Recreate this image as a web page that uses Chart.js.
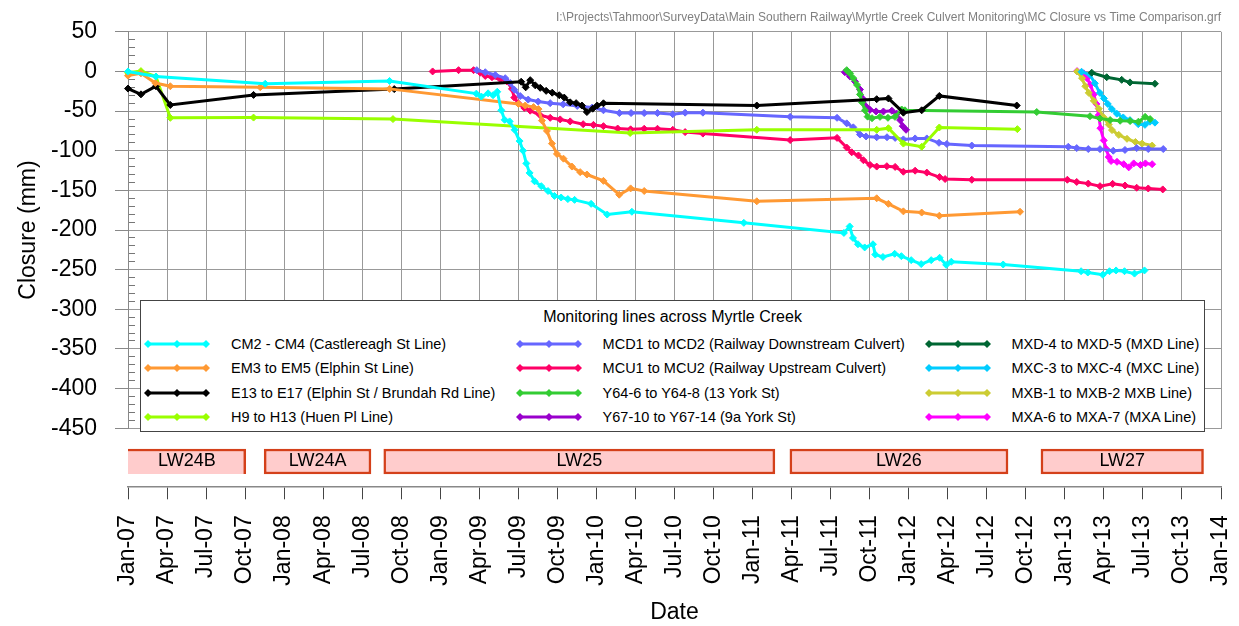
<!DOCTYPE html>
<html>
<head>
<meta charset="utf-8">
<title>MC Closure vs Time Comparison</title>
<script src="https://cdn.jsdelivr.net/npm/chart.js"></script>
<style>
  html, body { margin: 0; padding: 0; background: #fff; }
  body { font-family: 'Liberation Sans', Arial, sans-serif; }
  #wrap { position: relative; width: 1239px; height: 626px; overflow: hidden; }
  #mainBox { position: absolute; left: 0; top: 0; width: 1239px; height: 460px; }
  /* wider than the page so the rotated end label does not squeeze the axis */
  #panelBox { position: absolute; left: 0; top: 430px; width: 1267px; height: 196px; }
  #legend {
    position: absolute; left: 140px; top: 300px; width: 1063px; height: 130px;
    background: #fff; border: 1px solid #444; z-index: 5;
  }
  #legend .title {
    position: absolute; left: 0; right: 0; top: 6px; text-align: center;
    font-size: 16px; line-height: 20px; color: #000;
  }
  #legend .item { position: absolute; height: 24px; display: flex; align-items: center; white-space: nowrap; }
  #legend .item svg { width: 66px; height: 12px; margin-right: 21px; flex: none; }
  #legend .item span { font-size: 14.5px; color: #000; }
</style>
</head>
<body>
<div id="wrap">
  <div id="mainBox"><canvas id="main"></canvas></div>
  <div id="panelBox"><canvas id="panels"></canvas></div>
  <div id="legend"></div>
</div>
<script>
// closure readings, [decimal year, mm]
const cm2Cm4 = [[2007.000, 0], [2007.179, -6.5], [2007.879, -15.5], [2008.675, -12], [2009.231, -28], [2009.263, -31.7], [2009.306, -27.6], [2009.338, -30], [2009.365, -25.6], [2009.391, -49], [2009.412, -61], [2009.444, -63], [2009.476, -73.6], [2009.508, -87.8], [2009.530, -100], [2009.551, -116], [2009.572, -128], [2009.604, -138.6], [2009.647, -144.7], [2009.690, -150.8], [2009.731, -157], [2009.774, -159], [2009.817, -161], [2009.860, -162], [2009.966, -167], [2010.069, -180.5], [2010.227, -177], [2010.944, -191], [2011.585, -203.7], [2011.622, -195.5], [2011.643, -210], [2011.675, -218], [2011.718, -222], [2011.771, -218], [2011.786, -231], [2011.835, -234], [2011.910, -230], [2011.953, -233], [2012.016, -238], [2012.080, -243], [2012.144, -238], [2012.198, -235], [2012.240, -244], [2012.273, -240], [2012.605, -243.5], [2013.104, -252], [2013.147, -253.6], [2013.243, -256.5], [2013.286, -252], [2013.328, -251], [2013.382, -252], [2013.446, -255], [2013.510, -251]];
const em3Em5 = [[2007.000, -5.3], [2007.083, -2.4], [2007.175, -14.6], [2007.271, -18.7], [2007.847, -19.9], [2008.675, -22], [2009.501, -41], [2009.544, -43], [2009.597, -45], [2009.629, -47.5], [2009.651, -62], [2009.683, -75], [2009.715, -91], [2009.747, -104], [2009.789, -110], [2009.843, -120], [2009.896, -127], [2009.939, -130], [2010.045, -138], [2010.146, -155.5], [2010.219, -147.5], [2010.306, -150.8], [2011.027, -163.8], [2011.795, -160], [2011.870, -167], [2011.966, -176.5], [2012.083, -178], [2012.196, -182], [2012.713, -177]];
const e13E17 = [[2007.000, -21.6], [2007.083, -28.9], [2007.179, -18.7], [2007.271, -42.3], [2007.804, -29.6], [2008.705, -22.3], [2009.518, -13], [2009.547, -20], [2009.576, -11], [2009.608, -17.5], [2009.640, -20.7], [2009.678, -24.5], [2009.717, -26.8], [2009.762, -30], [2009.794, -33], [2009.832, -39], [2009.870, -40], [2009.907, -43], [2009.939, -51.2], [2009.976, -47], [2010.005, -43], [2010.045, -40.2], [2011.027, -43], [2011.795, -35], [2011.870, -34], [2011.966, -52], [2012.083, -49], [2012.196, -30.9], [2012.692, -43]];
const h9H13 = [[2007.000, -1.6], [2007.083, 0.4], [2007.179, -6.5], [2007.271, -58.5], [2007.804, -58.2], [2008.697, -60.1], [2010.216, -77.7], [2011.027, -73.6], [2011.795, -73.6], [2011.870, -71.6], [2011.966, -91], [2012.083, -95], [2012.196, -70.7], [2012.696, -72.8]];
const mcd1Mcd2 = [[2009.234, 1.6], [2009.288, -1], [2009.352, -4.5], [2009.416, -8.5], [2009.448, -14.6], [2009.474, -23], [2009.512, -31], [2009.563, -35.5], [2009.627, -38], [2009.704, -40], [2009.787, -41.5], [2009.877, -43.5], [2009.973, -45.5], [2010.045, -49], [2010.147, -52.5], [2010.222, -52.5], [2010.306, -52.5], [2010.391, -52.5], [2010.489, -54], [2010.568, -52], [2010.682, -52], [2011.241, -57.3], [2011.541, -58.5], [2011.603, -65.5], [2011.645, -70.5], [2011.688, -79.6], [2011.727, -82], [2011.795, -83], [2011.861, -83], [2011.913, -83.8], [2011.966, -85.7], [2012.041, -84.5], [2012.116, -84.5], [2012.194, -90], [2012.244, -91.5], [2012.404, -93.5], [2013.022, -95], [2013.076, -96.7], [2013.150, -97.9], [2013.225, -98], [2013.310, -100], [2013.385, -99], [2013.460, -96.7], [2013.534, -97.9], [2013.630, -97.9]];
const mcu1Mcu2 = [[2008.951, 0], [2009.117, 1.6], [2009.213, 1.6], [2009.256, -1.6], [2009.288, -5.7], [2009.331, -7.3], [2009.384, -9.8], [2009.427, -12.6], [2009.459, -22], [2009.474, -33], [2009.499, -40], [2009.538, -46], [2009.576, -49.5], [2009.640, -55.3], [2009.704, -58.5], [2009.768, -60.5], [2009.832, -63], [2009.915, -66.5], [2009.981, -67.4], [2010.045, -69], [2010.136, -72], [2010.219, -73], [2010.306, -72.3], [2010.391, -72.3], [2010.489, -73.6], [2010.568, -76.5], [2010.682, -78.4], [2011.241, -86.6], [2011.541, -83.8], [2011.603, -96], [2011.635, -102], [2011.678, -106], [2011.710, -112], [2011.753, -118], [2011.795, -120], [2011.860, -119.5], [2011.913, -120.4], [2011.966, -126.5], [2012.041, -125.2], [2012.116, -127.6], [2012.197, -133.3], [2012.233, -135.7], [2012.404, -136.6], [2013.016, -136.6], [2013.076, -139.4], [2013.150, -141.5], [2013.225, -144.7], [2013.306, -141.8], [2013.385, -143.9], [2013.460, -146.7], [2013.534, -147.6], [2013.627, -148.8]];
const y64York13 = [[2011.603, 1.6], [2011.624, -2.4], [2011.645, -8.5], [2011.669, -17], [2011.688, -29], [2011.701, -39], [2011.720, -49], [2011.737, -57], [2011.765, -59], [2011.816, -57.3], [2011.867, -58.5], [2011.912, -57.3], [2011.955, -48], [2011.976, -49], [2012.820, -51.2], [2013.161, -56.5], [2013.225, -59.4], [2013.290, -61.3], [2013.354, -62.2], [2013.418, -62.6], [2013.471, -63.4], [2013.514, -57.3], [2013.546, -60.1]];
const y67York9a = [[2011.591, -1], [2011.624, -6.5], [2011.656, -12.6], [2011.688, -22.8], [2011.709, -35], [2011.731, -45], [2011.752, -48.4], [2011.791, -50.4], [2011.838, -50.5], [2011.892, -49.5], [2011.924, -53.3], [2011.945, -61.4], [2011.962, -69], [2011.983, -73.6]];
const mxdLine = [[2013.172, -1.6], [2013.268, -7.3], [2013.364, -10.6], [2013.417, -13.8], [2013.577, -15.5]];
const mxcLine = [[2013.107, -0.4], [2013.160, -4], [2013.192, -15], [2013.224, -27], [2013.250, -34], [2013.275, -41], [2013.301, -47.5], [2013.333, -53.3], [2013.374, -58], [2013.417, -61.4], [2013.470, -66.5], [2013.513, -67.4], [2013.545, -63.4], [2013.577, -64.6]];
const mxbLine = [[2013.078, 0], [2013.110, -8.5], [2013.131, -18.7], [2013.153, -27], [2013.185, -37], [2013.217, -47], [2013.249, -58], [2013.281, -67], [2013.302, -74], [2013.345, -80], [2013.398, -85], [2013.452, -89], [2013.495, -91], [2013.559, -93.5]];
const mxaLine = [[2013.078, 0.4], [2013.121, -2.4], [2013.142, -8.5], [2013.164, -16.7], [2013.185, -29], [2013.202, -41], [2013.217, -55], [2013.228, -71.6], [2013.249, -87], [2013.266, -98], [2013.281, -108], [2013.296, -113], [2013.334, -114], [2013.377, -117], [2013.409, -121], [2013.441, -116], [2013.484, -118], [2013.516, -116], [2013.559, -117]];

const seriesNames = [
  'CM2 - CM4 (Castlereagh St Line)', 'EM3 to EM5 (Elphin St Line)', 'E13 to E17 (Elphin St / Brundah Rd Line)', 'H9 to H13 (Huen Pl Line)',
  'MCD1 to MCD2 (Railway Downstream Culvert)', 'MCU1 to MCU2 (Railway Upstream Culvert)', 'Y64-6 to Y64-8 (13 York St)', 'Y67-10 to Y67-14 (9a York St)',
  'MXD-4 to MXD-5 (MXD Line)', 'MXC-3 to MXC-4 (MXC Line)', 'MXB-1 to MXB-2 MXB Line)', 'MXA-6 to MXA-7 (MXA Line)'
];
const seriesData = [cm2Cm4, em3Em5, e13E17, h9H13, mcd1Mcd2, mcu1Mcu2, y64York13, y67York9a, mxdLine, mxcLine, mxbLine, mxaLine];
const seriesColors = ['#00ffff', '#ff9933', '#000000', '#99ff00', '#6666ff', '#ff0066', '#33cc33', '#9900cc', '#006633', '#00ccff', '#cccc33', '#ff00ff'];

// longwall extraction periods
const panelNames = ['LW24B', 'LW24A', 'LW25', 'LW26', 'LW27'];
const panelStart = [2006.85, 2007.872, 2008.638, 2011.239, 2012.847];
const panelEnd = [2007.754, 2008.556, 2011.143, 2012.636, 2013.888];

const yearMin = 2007;
const yearMax = 2014;
const quarterNames = ['Jan', 'Apr', 'Jul', 'Oct'];
const fileName = 'I:\\Projects\\Tahmoor\\SurveyData\\Main Southern Railway\\Myrtle Creek Culvert Monitoring\\MC Closure vs Time Comparison.grf';

const FONT = "'Liberation Sans', Arial, sans-serif";
Chart.defaults.font.family = FONT;
Chart.defaults.color = '#000';
const GRID = '#999';

function quarterLabel(v) {
  const year = Math.floor(v + 1e-6);
  const q = Math.round((v - year) * 4);
  if (q > 3) return '';
  return quarterNames[q] + '-' + String(year % 100).padStart(2, '0');
}

const mainChart = new Chart(document.getElementById('main'), {
  type: 'line',
  data: {
    datasets: seriesData.map((rows, i) => ({
      label: seriesNames[i],
      data: rows.map(([t, v]) => ({ x: t, y: v })),
      borderColor: seriesColors[i],
      backgroundColor: seriesColors[i],
      pointBackgroundColor: seriesColors[i],
      pointBorderColor: seriesColors[i],
      borderWidth: 3,
      pointStyle: 'rectRot',
      pointRadius: 3.5,
      pointBorderWidth: 1,
      tension: 0,
      clip: 6,
      yAxisID: 'y'
    }))
  },
  options: {
    responsive: true,
    maintainAspectRatio: false,
    animation: false,
    layout: { padding: { top: 0, right: 18, bottom: 7.7, left: 0 } },
    plugins: {
      legend: { display: false },
      tooltip: { enabled: false },
      title: {
        display: true, text: fileName, align: 'end', color: '#808080',
        font: { size: 12, weight: 'normal' }, padding: { top: 6, bottom: 7 }
      }
    },
    scales: {
      x: {
        type: 'linear', min: yearMin, max: yearMax,
        ticks: { display: false, stepSize: 0.25 },
        grid: { color: GRID, drawTicks: false },
        border: { color: GRID },
        afterFit: (s) => { s.height = 15; }
      },
      yMinor: {
        type: 'linear', position: 'left', min: -450, max: 50, weight: 0,
        ticks: { display: false, stepSize: 10, autoSkip: false },
        grid: { drawOnChartArea: false, tickLength: -7, tickColor: '#777' },
        border: { display: false },
        afterFit: (s) => { s.width = 0; }
      },
      y: {
        type: 'linear', position: 'left', min: -450, max: 50, weight: 1,
        ticks: { stepSize: 50, padding: 18, font: { size: 23 }, color: '#000' },
        grid: { color: GRID, tickLength: 13, tickColor: '#888' },
        border: { color: '#888' },
        title: { display: true, text: 'Closure (mm)', font: { size: 23 }, padding: { top: 15, bottom: 0 } },
        afterFit: (s) => { s.width = 128; }
      }
    }
  }
});

// draw panel names on their bars
const panelLabels = {
  id: 'panelLabels',
  afterDatasetsDraw(chart) {
    const { ctx, chartArea } = chart;
    const meta = chart.getDatasetMeta(0);
    ctx.save();
    ctx.font = '18px ' + FONT;
    ctx.fillStyle = '#000';
    ctx.textAlign = 'center';
    ctx.textBaseline = 'middle';
    meta.data.forEach((bar, i) => {
      const left = Math.max(Math.min(bar.x, bar.base), chartArea.left);
      const right = Math.min(Math.max(bar.x, bar.base), chartArea.right);
      ctx.fillText(panelNames[i], (left + right) / 2, bar.y);
    });
    ctx.restore();
  }
};

new Chart(document.getElementById('panels'), {
  type: 'bar',
  data: {
    labels: ['LW'],
    datasets: [{
      data: panelNames.map((n, i) => ({ x: [panelStart[i], panelEnd[i]], y: 'LW' })),
      backgroundColor: '#ffcccc',
      borderColor: '#d4401a',
      borderWidth: 2.5,
      borderSkipped: (ctx) => (ctx.dataIndex === 0 ? 'bottom' : false),
      barThickness: 25,
      yAxisID: 'y'
    }]
  },
  plugins: [panelLabels],
  options: {
    indexAxis: 'y',
    responsive: true,
    maintainAspectRatio: false,
    animation: false,
    layout: { padding: { top: 6.3, right: 0, bottom: 0, left: 0 } },
    plugins: { legend: { display: false }, tooltip: { enabled: false } },
    scales: {
      x: {
        type: 'linear', min: yearMin, max: yearMax,
        ticks: {
          stepSize: 0.25, autoSkip: false, minRotation: 90, maxRotation: 90,
          padding: 16, font: { size: 23 }, color: '#000',
          callback: (v) => quarterLabel(v)
        },
        grid: { drawOnChartArea: false, tickLength: 12.6, tickColor: '#444' },
        border: { color: '#888', width: 1.5 },
        title: { display: true, text: 'Date', font: { size: 23 }, padding: { top: 4, bottom: 0 } },
        afterFit: (s) => { s.height = 139.3; }
      },
      y: {
        type: 'category', position: 'left',
        ticks: { display: false }, grid: { display: false }, border: { display: false },
        afterFit: (s) => { s.width = 128; }
      },
      yRight: {
        type: 'category', position: 'right',
        ticks: { display: false }, grid: { display: false }, border: { display: false },
        afterFit: (s) => { s.width = 46; }
      }
    }
  }
});

// legend box listing the monitoring lines, three columns of four
function buildLegend(chart) {
  const box = document.getElementById('legend');
  const title = document.createElement('div');
  title.className = 'title';
  title.textContent = 'Monitoring lines across Myrtle Creek';
  box.appendChild(title);
  const colX = [3, 374.6, 783.5];
  const rowY = [42.7, 67.3, 92, 116];
  chart.data.datasets.forEach((ds, i) => {
    const col = Math.floor(i / 4);
    const row = i % 4;
    const c = ds.borderColor;
    const diamond = (cx) => `<polygon points="${cx - 4},6 ${cx},2 ${cx + 4},6 ${cx},10" fill="${c}"/>`;
    const item = document.createElement('div');
    item.className = 'item';
    item.style.left = colX[col] + 'px';
    item.style.top = (rowY[row] - 12) + 'px';
    item.innerHTML = `<svg viewBox="0 0 66 12"><line x1="4" y1="6" x2="62" y2="6" stroke="${c}" stroke-width="3"/>` +
      diamond(4) + diamond(33) + diamond(62) + `</svg><span>${ds.label}</span>`;
    box.appendChild(item);
  });
}
buildLegend(mainChart);
</script>
</body>
</html>
